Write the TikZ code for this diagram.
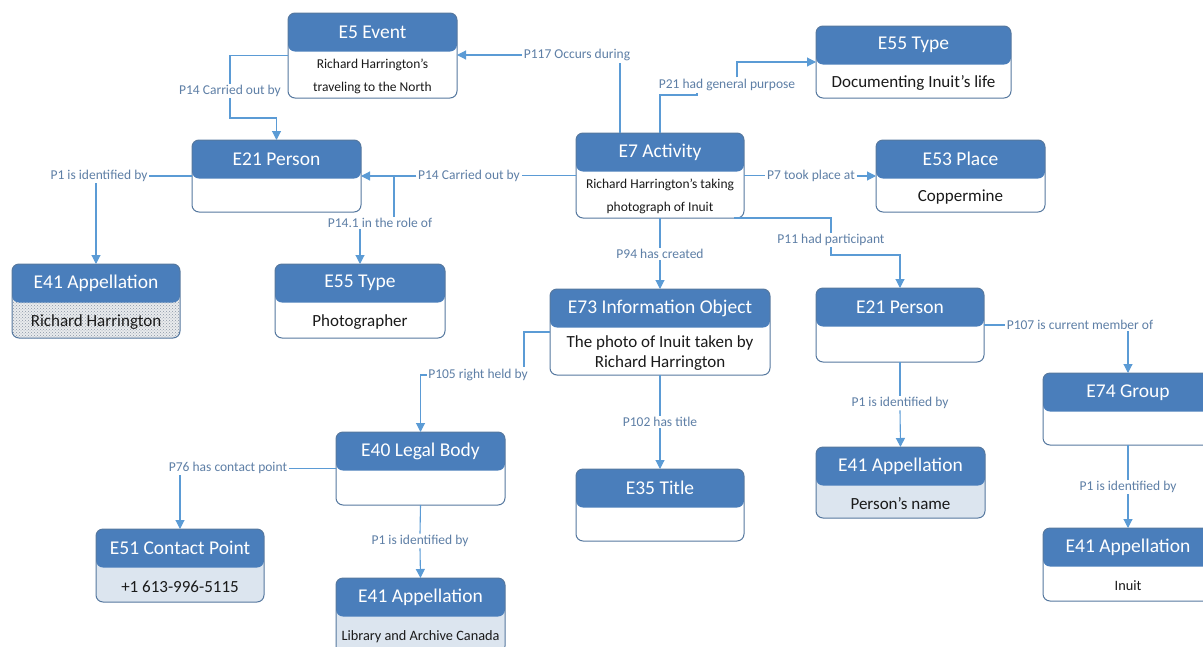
\documentclass[tikz,border=0pt]{standalone}
\usepackage{fontspec}
\setmainfont{Carlito}
\usetikzlibrary{arrows.meta,patterns,calc}

\definecolor{hdr}{HTML}{4A7EBB}
\definecolor{edge}{HTML}{56789F}
\definecolor{wire}{HTML}{5B9BD5}
\definecolor{lbltxt}{HTML}{5E7FA6}
\definecolor{pale}{HTML}{DCE5EF}
\definecolor{ink}{HTML}{1A1A1A}
\definecolor{dotink}{HTML}{8A96A6}

\tikzset{
  ent/.style={draw=edge, line width=1pt, rounded corners=7pt,
    inner sep=0pt, outer sep=0pt, anchor=north west},
  whitebody/.style={fill=white},
  palebody/.style={fill=pale},
  dotbody/.style={preaction={fill=pale!60!gray!30}, pattern=crosshatch dots, pattern color=dotink},
  titletxt/.style={text=white, font=\fontsize{19.5}{22}\selectfont, inner sep=0pt},
  bodytxt/.style={text=ink, align=center, inner sep=0pt},
  small/.style={font=\fontsize{13.5}{23}\selectfont},
  mid/.style={font=\fontsize{17}{20}\selectfont},
  lbl/.style={text=lbltxt, font=\fontsize{13.5}{15}\selectfont, fill=white, inner sep=1.5pt},
  line/.style={draw=wire, line width=1.1pt},
  conn/.style={line, -{Triangle[length=9pt, width=9pt]}},
}

% entity box: name, left, top, width, height, body style, title, body text, body font
\newcommand\entity[9]{%
  \node[ent, #6, minimum width=#4pt, minimum height=#5pt,
    path picture={\fill[hdr] (path picture bounding box.north west)
      rectangle ([yshift=-38.5pt]path picture bounding box.north east);}]
    (#1) at (#2,#3) {};
  \node[titletxt] (#1-t) at ([yshift=-19.25pt]#1.north) {#7};
  \node[bodytxt, #9] (#1-b) at ([yshift={(#5-38.5)/2*1pt-2pt}]#1.south) {#8};
}

\begin{document}
\begin{tikzpicture}[x=1pt, y=-1pt]
\useasboundingbox (0,0) rectangle (1203,646);
\clip (0,0) rectangle (1203,646);

% entities
\entity{e5}{288}{13}{169}{85}{whitebody}{E5 Event}{Richard Harrington's\\traveling to the North}{small}
\entity{e21a}{192}{140}{169}{72}{whitebody}{E21 Person}{}{mid}
\entity{e7}{576}{133}{168}{85}{whitebody}{E7 Activity}{Richard Harrington's taking\\photograph of Inuit}{small}
\entity{e55a}{816}{26}{195}{72}{whitebody}{E55 Type}{Documenting Inuit's life}{mid}
\entity{e53}{876}{140}{169}{72}{whitebody}{E53 Place}{Coppermine}{mid}
\entity{e41a}{12}{264}{168}{74}{dotbody}{E41 Appellation}{Richard Harrington}{mid}
\entity{e55b}{275}{264}{170}{74}{whitebody}{E55 Type}{Photographer}{mid}
\entity{e73}{550}{289}{220}{86}{whitebody}{E73 Information Object}{The photo of Inuit taken by\\Richard Harrington}{mid}
\entity{e21b}{816}{288}{168}{74}{whitebody}{E21 Person}{}{mid}
\entity{e74}{1043}{373}{170}{72}{whitebody}{E74 Group}{}{mid}
\entity{e40}{336}{432}{169}{73}{whitebody}{E40 Legal Body}{}{mid}
\entity{e35}{576}{469}{168}{72}{whitebody}{E35 Title}{}{mid}
\entity{e41b}{816}{447}{169}{71}{palebody}{E41 Appellation}{Person's name}{mid}
\entity{e51}{96}{529}{168}{73}{palebody}{E51 Contact Point}{+1 613-996-5115}{mid}
\entity{e41c}{336}{578}{169}{75}{palebody}{E41 Appellation}{Library and Archive Canada}{font=\fontsize{14.3}{16}\selectfont}
\entity{e41d}{1043}{528}{170}{73}{whitebody}{E41 Appellation}{Inuit}{font=\fontsize{14.3}{16}\selectfont}

% property labels
\node[lbl] (lP117) at (577,55) {P117 Occurs during};
\node[lbl] (lP21) at (727,85) {P21 had general purpose};
\node[lbl] (lP14a) at (230,91) {P14 Carried out by};
\node[lbl] (lP14b) at (469,176) {P14 Carried out by};
\node[lbl] (lP141) at (380,223) {P14.1 in the role of};
\node[lbl] (lP1a) at (99,176) {P1 is identified by};
\node[lbl] (lP7) at (811,176) {P7 took place at};
\node[lbl] (lP94) at (660,254) {P94 has created};
\node[lbl] (lP11) at (831,240) {P11 had participant};
\node[lbl] (lP107) at (1080,325) {P107 is current member of};
\node[lbl] (lP1b) at (900,403) {P1 is identified by};
\node[lbl] (lP1c) at (1128,487) {P1 is identified by};
\node[lbl] (lP105) at (478,375) {P105 right held by};
\node[lbl] (lP102) at (660,422) {P102 has title};
\node[lbl] (lP76) at (228,468) {P76 has contact point};
\node[lbl] (lP1d) at (420,541) {P1 is identified by};

% E7 -> E5 : occurs during
\coordinate (c1) at ([xshift=-40pt]e7.north);
\draw[line] (c1) -- (c1 |- lP117.south);
\draw[conn] (lP117.west) -- (lP117.west -| e5.east);

% E7 -> E55 : general purpose
\coordinate (c2a) at ([yshift=38pt]e7.north);
\coordinate (c2b) at ([xshift=37pt]c2a);
\draw[line] (e7.north) -- (c2a) -- (c2b) -- (c2b |- lP21.south);
\coordinate (c2c) at ([xshift=10pt]lP21.north);
\draw[conn] (c2c) |- (e55a.west);

% E5 -> E21 : carried out by
\coordinate (c3) at ([yshift=22pt]e21a.north);
\draw[line] (e5.west) -| (lP14a.north);
\draw[conn] (lP14a.south) |- (c3) -- (e21a.north);

% E7 -> E21 : carried out by
\draw[line] (e7.west) -- (e7.west -| lP14b.east);
\draw[conn] (lP14b.west) -- (lP14b.west -| e21a.east);

% role of the carrier
\coordinate (c5) at ([xshift=33pt]e21a.east);
\draw[line] (c5) -- (c5 |- lP141.north);
\draw[conn] (lP141.south -| e55b.north) -- (e55b.north);

% E21 -> E41
\draw[line] (e21a.west) -- (e21a.west -| lP1a.east);
\draw[conn] (lP1a.south -| e41a.north) -- (e41a.north);

% E7 -> E53
\draw[line] (e7.east) -- (e7.east -| lP7.west);
\draw[conn] (lP7.east) -- (lP7.east -| e53.west);

% E7 -> E73
\draw[line] (e7.south) -- (lP94.north);
\draw[conn] (lP94.south) -- (e73.north);

% E7 -> E21 : participant
\coordinate (c9a) at ([xshift=-10pt]e7.south east);
\coordinate (c9c) at ([yshift=33pt]e21b.north);
\draw[line] (c9a) -| (lP11.north);
\draw[conn] (lP11.south) |- (c9c) -- (e21b.north);

% E21 -> E74
\draw[line] (e21b.east) -- (e21b.east -| lP107.west);
\draw[conn] (lP107.south -| e74.north) -- (e74.north);

% E21 -> E41
\draw[line] (e21b.south) -- (lP1b.north);
\draw[conn] (lP1b.south) -- (e41b.north);

% E74 -> E41
\draw[line] (e74.south) -- (lP1c.north);
\draw[conn] (lP1c.south) -- (e41d.north);

% E73 -> E40
\coordinate (c13) at ([xshift=-26pt]e73.west);
\draw[line] (e73.west) -- (c13) -- (c13 |- lP105.north);
\draw[conn] (lP105.west) -| (e40.north);

% E73 -> E35
\draw[line] (e73.south) -- (lP102.north);
\draw[conn] (lP102.south) -- (e35.north);

% E40 -> E51
\draw[line] (e40.west) -- (e40.west -| lP76.east);
\draw[conn] (lP76.south -| e51.north) -- (e51.north);

% E40 -> E41
\draw[line] (e40.south) -- (lP1d.north);
\draw[conn] (lP1d.south) -- (e41c.north);
\end{tikzpicture}
\end{document}
